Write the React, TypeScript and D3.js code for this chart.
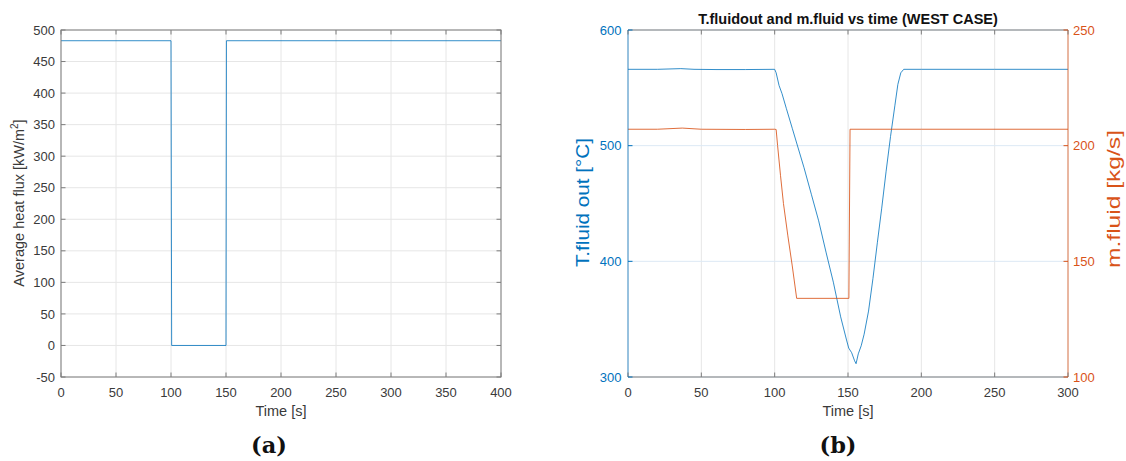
import React from "react";
import * as d3 from "d3";

// (a) average heat flux on the receiver
const fluxTime = [0, 100, 100.6, 150, 150.4, 400];
const fluxValue = [483, 483, 0, 0, 483, 483];
const fluxTimeTicks = [0, 50, 100, 150, 200, 250, 300, 350, 400];
const fluxTicks = [-50, 0, 50, 100, 150, 200, 250, 300, 350, 400, 450, 500];

// (b) outlet fluid temperature and mass flow (WEST CASE)
const tempTime = [
  0, 20, 36, 45, 60, 80, 100, 101, 103, 105, 108, 112, 116, 120, 125, 130, 135,
  140, 145, 149, 150.5, 152.5, 154.5, 155.5, 157, 159, 161, 164, 167, 170, 173,
  176, 179, 182, 184, 186, 188, 200, 250, 300,
];
const tempValue = [
  566, 566, 566.6, 566, 565.8, 565.8, 566, 563, 552, 545, 532, 515, 498, 481,
  458, 435, 408, 382, 352, 332, 325, 321, 314, 311.5, 320, 327, 337, 357, 385,
  416, 446, 478, 508, 535, 553, 563, 566, 566, 566, 566,
];
const flowTime = [
  0, 20, 37, 50, 80, 100, 101, 102, 104, 106, 109, 112, 115, 150.6, 151.4, 200,
  300,
];
const flowValue = [
  207.1, 207.1, 207.6, 207.1, 207.0, 207.1, 207, 200, 187, 175, 161, 148, 134,
  134, 207.1, 207.1, 207.1,
];
const timeTicksB = [0, 50, 100, 150, 200, 250, 300];
const tempTicks = [300, 400, 500, 600];
const flowTicks = [100, 150, 200, 250];

const FONT = "'Liberation Sans', Arial, Helvetica, sans-serif";
const BLUE = "#0072BD";
const ORANGE = "#D95319";
const AXIS = "#7d7d7d";
const TEXT = "#3a3a3a";
const GRID = "#e6e6e6";
const GRID_BLUE = "#dce9f5";
const TL = 4.5;

export default function App() {
  // panel (a)
  const xA = d3.scaleLinear().domain([0, 400]).range([61, 501]);
  const yA = d3.scaleLinear().domain([-50, 500]).range([377, 30]);
  const lineA = d3
    .line<number>()
    .x((_, i) => xA(fluxTime[i]))
    .y((d) => yA(d));

  // panel (b)
  const xB = d3.scaleLinear().domain([0, 300]).range([628, 1068]);
  const yT = d3.scaleLinear().domain([300, 600]).range([377, 30]);
  const yM = d3.scaleLinear().domain([100, 250]).range([377, 30]);
  const lineT = d3
    .line<number>()
    .x((_, i) => xB(tempTime[i]))
    .y((d) => yT(d));
  const lineM = d3
    .line<number>()
    .x((_, i) => xB(flowTime[i]))
    .y((d) => yM(d));

  const [a0, a1] = xA.range();
  const [b0, b1] = xB.range();
  const top = 30;
  const bottom = 377;

  return (
    <svg
      width={1126}
      height={461}
      viewBox="0 0 1126 461"
      style={{ position: "absolute", left: 0, top: 0, background: "#fff" }}
      fontFamily={FONT}
    >
      <rect width={1126} height={461} fill="#fff" />

      {/* ---------- panel (a) ---------- */}
      <g>
        {fluxTimeTicks.map((t) => (
          <line key={"ga" + t} x1={xA(t)} x2={xA(t)} y1={top} y2={bottom} stroke={GRID} />
        ))}
        {fluxTicks.map((v) => (
          <line key={"gya" + v} x1={a0} x2={a1} y1={yA(v)} y2={yA(v)} stroke={GRID} />
        ))}
        <path
          d={lineA(fluxValue) || ""}
          fill="none"
          stroke={BLUE}
          strokeOpacity={0.8}
          strokeWidth={1}
        />
        <rect x={a0} y={top} width={a1 - a0} height={bottom - top} fill="none" stroke={AXIS} />
        {fluxTimeTicks.map((t) => (
          <g key={"ta" + t}>
            <line x1={xA(t)} x2={xA(t)} y1={bottom} y2={bottom - TL} stroke={AXIS} />
            <line x1={xA(t)} x2={xA(t)} y1={top} y2={top + TL} stroke={AXIS} />
            <text x={xA(t)} y={397} fontSize={13} fill={TEXT} textAnchor="middle">
              {t}
            </text>
          </g>
        ))}
        {fluxTicks.map((v) => (
          <g key={"tya" + v}>
            <line x1={a0} x2={a0 + TL} y1={yA(v)} y2={yA(v)} stroke={AXIS} />
            <line x1={a1} x2={a1 - TL} y1={yA(v)} y2={yA(v)} stroke={AXIS} />
            <text x={55} y={yA(v) + 4.6} fontSize={13} fill={TEXT} textAnchor="end">
              {v}
            </text>
          </g>
        ))}
        <text x={(a0 + a1) / 2} y={415.5} fontSize={14.5} fill={TEXT} textAnchor="middle">
          Time [s]
        </text>
        <text
          transform="translate(23.7,203) rotate(-90)"
          fontSize={14.5}
          fill={TEXT}
          textAnchor="middle"
        >
          Average heat flux [kW/m
          <tspan fontSize={10} dy={-6}>
            2
          </tspan>
          <tspan dy={6}>]</tspan>
        </text>
        <text
          x={269}
          y={453}
          fontSize={22.5}
          fontWeight="bold"
          fontFamily="'DejaVu Serif', serif"
          fill="#111"
          textAnchor="middle"
        >
          (a)
        </text>
      </g>

      {/* ---------- panel (b) ---------- */}
      <g>
        {timeTicksB.map((t) => (
          <line key={"gb" + t} x1={xB(t)} x2={xB(t)} y1={top} y2={bottom} stroke={GRID} />
        ))}
        {tempTicks.map((v) => (
          <line key={"gyb" + v} x1={b0} x2={b1} y1={yT(v)} y2={yT(v)} stroke={GRID_BLUE} />
        ))}
        <path
          d={lineT(tempValue) || ""}
          fill="none"
          stroke={BLUE}
          strokeOpacity={0.8}
          strokeWidth={1}
        />
        <path
          d={lineM(flowValue) || ""}
          fill="none"
          stroke={ORANGE}
          strokeOpacity={0.85}
          strokeWidth={1}
        />

        {/* frame */}
        <line x1={b0} x2={b1} y1={bottom} y2={bottom} stroke={AXIS} />
        <line x1={b0} x2={b1} y1={top} y2={top} stroke={AXIS} />
        <line x1={b0} x2={b0} y1={top} y2={bottom} stroke={BLUE} strokeOpacity={0.75} />
        <line x1={b1} x2={b1} y1={top} y2={bottom} stroke={ORANGE} strokeOpacity={0.75} />

        {timeTicksB.map((t) => (
          <g key={"tb" + t}>
            <line x1={xB(t)} x2={xB(t)} y1={bottom} y2={bottom - TL} stroke={AXIS} />
            <line x1={xB(t)} x2={xB(t)} y1={top} y2={top + TL} stroke={AXIS} />
            <text x={xB(t)} y={397} fontSize={13} fill={TEXT} textAnchor="middle">
              {t}
            </text>
          </g>
        ))}
        {tempTicks.map((v) => (
          <g key={"tyt" + v}>
            <line x1={b0} x2={b0 + TL} y1={yT(v)} y2={yT(v)} stroke={BLUE} />
            <text x={621.5} y={yT(v) + 4.6} fontSize={13} fill={BLUE} textAnchor="end">
              {v}
            </text>
          </g>
        ))}
        {flowTicks.map((v) => (
          <g key={"tym" + v}>
            <line x1={b1} x2={b1 - TL} y1={yM(v)} y2={yM(v)} stroke={ORANGE} />
            <text x={1073} y={yM(v) + 4.6} fontSize={13} fill={ORANGE} textAnchor="start">
              {v}
            </text>
          </g>
        ))}
        <text
          x={(b0 + b1) / 2}
          y={23.5}
          fontSize={14.5}
          fontWeight="bold"
          fill="#111"
          textAnchor="middle"
        >
          T.fluidout and m.fluid vs time (WEST CASE)
        </text>
        <text x={(b0 + b1) / 2} y={415.5} fontSize={14.5} fill={TEXT} textAnchor="middle">
          Time [s]
        </text>
        <text
          transform="translate(588.5,202.5) rotate(-90)"
          fontSize={18}
          fill={BLUE}
          textAnchor="middle"
          textLength={129}
          lengthAdjust="spacingAndGlyphs"
        >
          T.fluid out [°C]
        </text>
        <text
          transform="translate(1119.5,199) rotate(-90)"
          fontSize={18.5}
          fill={ORANGE}
          textAnchor="middle"
          textLength={138}
          lengthAdjust="spacingAndGlyphs"
        >
          m.fluid [kg/s]
        </text>
        <text
          x={838}
          y={453}
          fontSize={22.5}
          fontWeight="bold"
          fontFamily="'DejaVu Serif', serif"
          fill="#111"
          textAnchor="middle"
        >
          (b)
        </text>
      </g>
    </svg>
  );
}
